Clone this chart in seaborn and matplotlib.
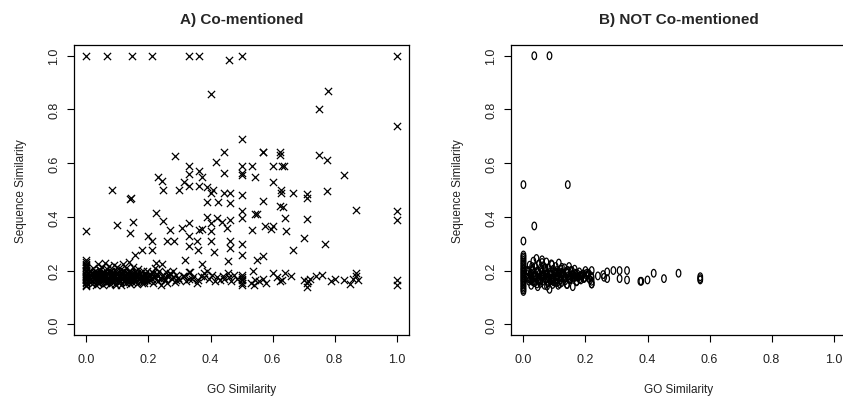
import numpy as np
import pandas as pd
import seaborn as sns
import matplotlib.pyplot as plt
from matplotlib.path import Path
from matplotlib.transforms import Affine2D

# Panel A: co-mentioned pairs (GO similarity, sequence similarity)
co_go = [
    # top row
    0.0, 0.065, 0.148, 0.21, 0.33, 0.364, 0.46, 0.5, 1.0,
    # upper scattered
    0.40, 0.78, 0.75, 1.0, 0.5, 0.57, 0.624, 0.75, 0.775,
    0.286, 0.331, 0.331, 0.364, 0.373, 0.364, 0.417, 0.444, 0.444, 0.5, 0.5, 0.5,
    0.535, 0.543, 0.57, 0.60, 0.60, 0.624, 0.63, 0.637, 0.83,
    0.232, 0.243, 0.248, 0.30, 0.313, 0.33, 0.39, 0.40, 0.407, 0.444, 0.463, 0.5,
    0.626, 0.626, 0.667, 0.71, 0.775, 0.083, 0.145,
    # middle scattered
    0.0, 0.10, 0.14, 0.15, 0.14, 0.225, 0.248, 0.20, 0.21, 0.21, 0.158, 0.18,
    0.27, 0.26, 0.283, 0.308, 0.33, 0.33, 0.33, 0.318, 0.33, 0.364, 0.372, 0.356,
    0.36, 0.372, 0.39, 0.40, 0.40, 0.40, 0.39, 0.425, 0.41, 0.42, 0.437, 0.453,
    0.463, 0.463, 0.463, 0.463, 0.457, 0.5, 0.5, 0.5, 0.5, 0.533, 0.543, 0.55,
    0.55, 0.57, 0.537, 0.57, 0.577, 0.60, 0.595, 0.624, 0.633, 0.64, 0.643, 0.665,
    0.71, 0.70, 0.77, 0.87, 0.71, 1.0, 1.0, 1.0, 1.0,
    # x = 0 column
    0.0, 0.0, 0.0, 0.0, 0.0, 0.0, 0.0, 0.0, 0.0, 0.0,
    0.0, 0.0, 0.0, 0.0, 0.0, 0.0, 0.0, 0.0, 0.0, 0.0,
    # dense band
    0.012, 0.015, 0.018, 0.02, 0.022, 0.025, 0.027, 0.03, 0.032, 0.034, 0.036, 0.038,
    0.04, 0.042, 0.044, 0.046, 0.048, 0.05, 0.052, 0.054, 0.056, 0.058, 0.06, 0.062,
    0.064, 0.066, 0.068, 0.07, 0.072, 0.074, 0.076, 0.078, 0.08, 0.082, 0.084, 0.086,
    0.088, 0.09, 0.092, 0.094, 0.096, 0.098, 0.1, 0.1,
    0.102, 0.104, 0.106, 0.108, 0.11, 0.112, 0.114, 0.116, 0.118, 0.12, 0.122, 0.124,
    0.126, 0.128, 0.13, 0.132, 0.134, 0.136, 0.138, 0.14, 0.142, 0.144, 0.146, 0.148,
    0.15, 0.152, 0.155, 0.158, 0.16, 0.163, 0.166, 0.169, 0.172, 0.175, 0.178, 0.181,
    0.184, 0.187, 0.19, 0.193, 0.196, 0.199,
    0.202, 0.206, 0.21, 0.214, 0.218, 0.222, 0.225, 0.228, 0.232, 0.235, 0.238, 0.242,
    0.245, 0.248, 0.252, 0.256, 0.26, 0.265, 0.27, 0.275, 0.28, 0.285, 0.29, 0.295, 0.3,
    0.31, 0.32, 0.33, 0.335, 0.345, 0.355, 0.36, 0.37, 0.38, 0.39, 0.395, 0.405,
    0.415, 0.42, 0.43, 0.44, 0.445, 0.455, 0.46, 0.465, 0.475, 0.485,
    0.5, 0.5, 0.5, 0.5, 0.5, 0.5,
    0.53, 0.54, 0.545, 0.555, 0.57, 0.58, 0.6, 0.615, 0.625, 0.63, 0.64, 0.66,
    0.7, 0.71, 0.715, 0.71, 0.72, 0.74, 0.76, 0.79, 0.8, 0.83, 0.85, 0.86, 0.87,
    0.875, 0.87,
    # second pass over the densest part of the band
    0.014, 0.019, 0.024, 0.029, 0.033, 0.037, 0.041, 0.045, 0.049, 0.053, 0.057, 0.061,
    0.065, 0.069, 0.073, 0.077, 0.081, 0.085, 0.089, 0.093, 0.097, 0.101, 0.105, 0.109,
    0.113, 0.117, 0.121, 0.125, 0.129, 0.133, 0.137, 0.141, 0.145, 0.149, 0.153, 0.157,
    0.161, 0.165, 0.17, 0.174, 0.179, 0.183, 0.188, 0.192, 0.197, 0.204, 0.212, 0.22,
    0.011, 0.023, 0.035, 0.047, 0.059, 0.071, 0.083, 0.095, 0.107, 0.119, 0.131, 0.143,
    0.156, 0.168, 0.18, 0.192, 0.216, 0.23, 0.25, 0.27, 0.29, 0.315, 0.34, 0.38,
    # third pass
    0.016, 0.026, 0.039, 0.051, 0.063, 0.075, 0.087, 0.099, 0.111, 0.123, 0.135, 0.147,
    0.159, 0.171, 0.185, 0.198, 0.021, 0.043, 0.067, 0.091, 0.115, 0.139, 0.163, 0.186,
    0.031, 0.055, 0.079, 0.103, 0.127, 0.151, 0.176, 0.208, 0.226, 0.24, 0.26, 0.28,
]
co_seq = [
    1.0, 1.0, 1.0, 1.0, 1.0, 1.0, 0.985, 1.0, 1.0,
    0.857, 0.868, 0.80, 0.74, 0.69, 0.64, 0.64, 0.63, 0.61,
    0.627, 0.59, 0.56, 0.57, 0.55, 0.515, 0.605, 0.64, 0.565, 0.59, 0.565, 0.555,
    0.59, 0.547, 0.64, 0.59, 0.53, 0.63, 0.59, 0.59, 0.555,
    0.547, 0.535, 0.50, 0.50, 0.53, 0.515, 0.51, 0.49, 0.50, 0.49, 0.49, 0.48,
    0.50, 0.49, 0.49, 0.485, 0.495, 0.50, 0.47,
    0.347, 0.37, 0.34, 0.38, 0.465, 0.415, 0.385, 0.33, 0.31, 0.275, 0.257, 0.275,
    0.35, 0.31, 0.31, 0.36, 0.377, 0.33, 0.29, 0.24, 0.195, 0.35, 0.355, 0.31,
    0.275, 0.226, 0.40, 0.377, 0.347, 0.31, 0.457, 0.457, 0.27, 0.395, 0.38, 0.36,
    0.39, 0.45, 0.31, 0.283, 0.234, 0.42, 0.395, 0.30, 0.257, 0.352, 0.41, 0.41,
    0.24, 0.253, 0.20, 0.46, 0.365, 0.365, 0.355, 0.44, 0.438, 0.397, 0.347, 0.275,
    0.393, 0.32, 0.30, 0.427, 0.47, 0.42, 0.39, 0.165, 0.145,
    0.142, 0.148, 0.153, 0.158, 0.163, 0.167, 0.171, 0.176, 0.18, 0.184,
    0.189, 0.193, 0.198, 0.203, 0.208, 0.214, 0.219, 0.226, 0.232, 0.241,
    0.165, 0.19, 0.15, 0.21, 0.175, 0.158, 0.2, 0.183, 0.147, 0.168, 0.225, 0.19,
    0.155, 0.205, 0.172, 0.186, 0.16, 0.215, 0.178, 0.145, 0.196, 0.166, 0.229, 0.182,
    0.152, 0.207, 0.174, 0.19, 0.162, 0.218, 0.149, 0.185, 0.2, 0.17, 0.157, 0.193,
    0.178, 0.222, 0.163, 0.2, 0.148, 0.186, 0.171, 0.212,
    0.156, 0.194, 0.18, 0.165, 0.205, 0.147, 0.188, 0.172, 0.226, 0.16, 0.197, 0.183,
    0.152, 0.21, 0.175, 0.19, 0.163, 0.232, 0.18, 0.149, 0.2, 0.17, 0.188, 0.157,
    0.215, 0.177, 0.193, 0.164, 0.182, 0.15, 0.205, 0.172, 0.19, 0.16, 0.18, 0.198,
    0.168, 0.153, 0.185, 0.174, 0.2, 0.162,
    0.18, 0.165, 0.195, 0.152, 0.175, 0.21, 0.228, 0.188, 0.16, 0.2, 0.172, 0.145,
    0.225, 0.185, 0.165, 0.195, 0.155, 0.178, 0.19, 0.168, 0.2, 0.158, 0.182, 0.172, 0.165,
    0.18, 0.16, 0.17, 0.195, 0.176, 0.152, 0.165, 0.18, 0.19, 0.2, 0.17, 0.185,
    0.16, 0.175, 0.165, 0.18, 0.17, 0.19, 0.175, 0.16, 0.185, 0.17,
    0.185, 0.175, 0.165, 0.155, 0.145, 0.17,
    0.155, 0.145, 0.165, 0.16, 0.17, 0.155, 0.19, 0.175, 0.16, 0.165, 0.19, 0.18,
    0.165, 0.155, 0.16, 0.14, 0.17, 0.18, 0.185, 0.16, 0.17, 0.165, 0.15, 0.17, 0.18,
    0.165, 0.19,
    0.178, 0.161, 0.195, 0.172, 0.186, 0.154, 0.169, 0.201, 0.181, 0.164, 0.192, 0.175,
    0.158, 0.188, 0.171, 0.198, 0.162, 0.182, 0.176, 0.151, 0.19, 0.168, 0.185, 0.159,
    0.196, 0.173, 0.161, 0.184, 0.17, 0.192, 0.156, 0.178, 0.189, 0.165, 0.174, 0.2,
    0.16, 0.181, 0.169, 0.19, 0.155, 0.177, 0.186, 0.163, 0.173, 0.182, 0.168, 0.176,
    0.185, 0.17, 0.159, 0.192, 0.178, 0.165, 0.187, 0.174, 0.16, 0.181, 0.168, 0.195,
    0.172, 0.184, 0.166, 0.176, 0.19, 0.18, 0.172, 0.186, 0.165, 0.178, 0.17, 0.175,
    0.168, 0.184, 0.175, 0.191, 0.158, 0.18, 0.166, 0.187, 0.173, 0.196, 0.162, 0.179,
    0.185, 0.17, 0.16, 0.182, 0.19, 0.174, 0.157, 0.183, 0.168, 0.177, 0.192, 0.164,
    0.175, 0.162, 0.188, 0.17, 0.181, 0.167, 0.178, 0.172, 0.184, 0.17, 0.18, 0.176,
]

# Panel B: not co-mentioned pairs
not_go = [
    0.035, 0.084, 0.0, 0.143, 0.035, 0.0,
    0.24, 0.257, 0.27, 0.29, 0.31, 0.334, 0.31, 0.334, 0.377, 0.38, 0.40, 0.42,
    0.453, 0.50, 0.57, 0.57, 0.57, 0.27, 0.26, 0.22, 0.22,
    0.0, 0.0, 0.0, 0.0, 0.0, 0.0, 0.0, 0.0, 0.0, 0.0, 0.0, 0.0, 0.0,
    0.0, 0.0, 0.0, 0.0, 0.0, 0.0, 0.0, 0.0, 0.0, 0.0, 0.0, 0.0,
    0.012, 0.015, 0.018, 0.02, 0.022, 0.025, 0.027, 0.03, 0.032, 0.034, 0.036, 0.038,
    0.04, 0.042, 0.044, 0.046, 0.048, 0.05, 0.052, 0.054, 0.056, 0.058, 0.06, 0.06,
    0.062, 0.064, 0.066, 0.068, 0.07, 0.072, 0.074, 0.076, 0.078, 0.08, 0.082, 0.084,
    0.086, 0.088, 0.09, 0.092, 0.094, 0.096, 0.098, 0.1, 0.102, 0.104, 0.106, 0.108,
    0.11, 0.112, 0.114, 0.116, 0.118,
    0.12, 0.123, 0.126, 0.129, 0.132, 0.135, 0.138, 0.141, 0.144, 0.147, 0.15, 0.153,
    0.156, 0.159, 0.162, 0.165, 0.168, 0.171, 0.175, 0.18, 0.185, 0.19, 0.195, 0.2,
    0.205, 0.21, 0.215, 0.22, 0.22, 0.22,
    # second pass over the dense cluster
    0.013, 0.021, 0.029, 0.037, 0.045, 0.053, 0.061, 0.069, 0.077, 0.085, 0.093, 0.101,
    0.109, 0.117, 0.125, 0.133, 0.141, 0.149, 0.157, 0.165, 0.173, 0.181, 0.189, 0.197,
    0.017, 0.033, 0.049, 0.065, 0.081, 0.097, 0.113, 0.129, 0.145, 0.161, 0.177, 0.193,
    0.026, 0.058, 0.09, 0.122, 0.154, 0.186, 0.208, 0.212,
    # third pass
    0.016, 0.024, 0.031, 0.039, 0.047, 0.055, 0.063, 0.071, 0.079, 0.087, 0.095, 0.103,
    0.111, 0.119, 0.127, 0.135, 0.143, 0.151, 0.16, 0.17, 0.183, 0.198, 0.011, 0.028,
    0.044, 0.06, 0.076, 0.092, 0.108, 0.124, 0.14, 0.156, 0.172, 0.188, 0.204, 0.218,
]
not_seq = [
    1.0, 1.0, 0.52, 0.52, 0.366, 0.31,
    0.18, 0.185, 0.195, 0.2, 0.2, 0.2, 0.17, 0.165, 0.16, 0.16, 0.165, 0.19,
    0.17, 0.19, 0.177, 0.165, 0.17, 0.17, 0.175, 0.15, 0.16,
    0.122, 0.128, 0.134, 0.14, 0.146, 0.152, 0.158, 0.163, 0.168, 0.173, 0.178, 0.183, 0.188,
    0.193, 0.198, 0.203, 0.208, 0.214, 0.22, 0.226, 0.232, 0.238, 0.245, 0.251, 0.258,
    0.175, 0.2, 0.16, 0.22, 0.185, 0.145, 0.205, 0.17, 0.235, 0.19, 0.155, 0.215,
    0.178, 0.245, 0.198, 0.14, 0.165, 0.225, 0.188, 0.152, 0.21, 0.175, 0.24, 0.195,
    0.16, 0.218, 0.182, 0.145, 0.2, 0.168, 0.232, 0.19, 0.155, 0.21, 0.175, 0.13,
    0.195, 0.162, 0.225, 0.185, 0.148, 0.205, 0.17, 0.19, 0.157, 0.215, 0.178, 0.2,
    0.165, 0.145, 0.228, 0.188, 0.172,
    0.205, 0.155, 0.19, 0.175, 0.21, 0.162, 0.195, 0.148, 0.18, 0.215, 0.168, 0.2,
    0.185, 0.14, 0.172, 0.205, 0.19, 0.158, 0.178, 0.195, 0.165, 0.185, 0.17, 0.2,
    0.18, 0.19, 0.165, 0.15, 0.175, 0.2,
    0.185, 0.168, 0.2, 0.176, 0.192, 0.16, 0.182, 0.208, 0.171, 0.188, 0.163, 0.196,
    0.179, 0.15, 0.186, 0.172, 0.2, 0.166, 0.183, 0.176, 0.19, 0.168, 0.18, 0.173,
    0.195, 0.178, 0.162, 0.186, 0.174, 0.158, 0.192, 0.18, 0.169, 0.184, 0.176, 0.188,
    0.165, 0.181, 0.17, 0.193, 0.176, 0.182, 0.185, 0.17,
    0.17, 0.19, 0.158, 0.182, 0.2, 0.166, 0.177, 0.21, 0.16, 0.186, 0.172, 0.195,
    0.18, 0.165, 0.19, 0.175, 0.2, 0.168, 0.184, 0.176, 0.181, 0.174, 0.2, 0.215,
    0.15, 0.23, 0.142, 0.222, 0.155, 0.212, 0.148, 0.2, 0.16, 0.178, 0.19, 0.18,
]

ticks = [0.0, 0.2, 0.4, 0.6, 0.8, 1.0]
tick_labels = ["0.0", "0.2", "0.4", "0.6", "0.8", "1.0"]

df_co = pd.DataFrame({"go": co_go, "seq": co_seq})
df_not = pd.DataFrame({"go": not_go, "seq": not_seq})

sns.set_style("white")
plt.rcParams["font.family"] = ["Liberation Sans", "DejaVu Sans"]

fig = plt.figure(figsize=(8.43, 4.02), dpi=100)
ax1 = fig.add_axes([0.0878, 0.1642, 0.3974, 0.7214])
ax2 = fig.add_axes([0.6062, 0.1642, 0.3974, 0.7214])

# narrow open oval, like the R plotting character
oval = Path.unit_circle().transformed(Affine2D().scale(0.6, 1.0))

sns.scatterplot(data=df_co, x="go", y="seq", marker="x", s=27, color="black",
                linewidth=0.9, ax=ax1)
sns.scatterplot(data=df_not, x="go", y="seq", marker=oval, s=30,
                facecolor="none", edgecolor="black", linewidth=0.9, ax=ax2)

for ax, title in [(ax1, "A) Co-mentioned"), (ax2, "B) NOT Co-mentioned")]:
    ax.set_xlim(-0.04, 1.04)
    ax.set_ylim(-0.04, 1.04)
    ax.set_xticks(ticks)
    ax.set_xticklabels(tick_labels)
    ax.set_yticks(ticks)
    ax.set_yticklabels(tick_labels, rotation=90, va="center")
    ax.tick_params(axis="both", bottom=True, left=True, direction="out",
                   length=5, width=0.8, color="black", labelsize=9,
                   labelcolor="#222222")
    ax.tick_params(axis="x", pad=8)
    ax.tick_params(axis="y", pad=5)
    for sp in ax.spines.values():
        sp.set_color("black")
        sp.set_linewidth(0.9)
    ax.set_xlabel("GO Similarity", fontsize=8.5, labelpad=13, color="#222222")
    ax.set_ylabel("Sequence Similarity", fontsize=8.5, labelpad=15, color="#222222")
    ax.set_title(title, fontsize=11, fontweight="bold", pad=16)

fig.savefig("out.png", dpi=100)
